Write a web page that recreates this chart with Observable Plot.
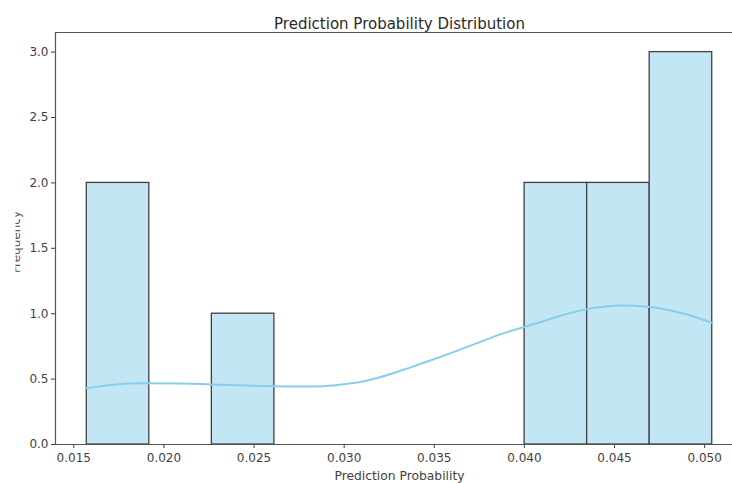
<!DOCTYPE html>
<html>
<head>
<meta charset="utf-8">
<script src="https://cdn.jsdelivr.net/npm/d3@7"></script>
<script src="https://cdn.jsdelivr.net/npm/@observablehq/plot@0.6"></script>
<style>
  html, body { margin: 0; padding: 0; background: #fff; overflow: hidden; }
  #chart svg { overflow: hidden; display: block; }
</style>
</head>
<body>
<div id="chart"></div>
<script>
// Histogram bins (10 equal-width bins over the observed range) and their counts
const binEdges = [0.01572, 0.01919, 0.02266, 0.02613, 0.02960, 0.03307, 0.03654, 0.04001, 0.04348, 0.04695, 0.05042];
const binCounts = [2, 0, 1, 0, 0, 0, 0, 2, 2, 3];

// Kernel density estimate, scaled to counts
const kdeX = [0.01572, 0.01733, 0.01888, 0.02100, 0.02265, 0.02450, 0.02609, 0.02758, 0.02886, 0.03010, 0.03130, 0.03250, 0.03368, 0.03490, 0.03606, 0.03730, 0.03850, 0.03994, 0.04089, 0.04200, 0.04349, 0.04532, 0.04698, 0.04870, 0.05042];
const kdeY = [0.430, 0.458, 0.468, 0.466, 0.459, 0.452, 0.446, 0.443, 0.446, 0.462, 0.490, 0.535, 0.590, 0.648, 0.706, 0.771, 0.834, 0.897, 0.936, 0.985, 1.035, 1.062, 1.052, 1.005, 0.930];

// Axis ticks
const xTicks = [0.015, 0.020, 0.025, 0.030, 0.035, 0.040, 0.045, 0.050];
const yTicks = [0.0, 0.5, 1.0, 1.5, 2.0, 2.5, 3.0];

const bars = binCounts
  .map((c, i) => ({x1: binEdges[i], x2: binEdges[i + 1], count: c}))
  .filter(d => d.count > 0);
const kde = kdeX.map((x, i) => ({x, y: kdeY[i]}));

// Axis limits with a 5% margin around the data
const xPad = (binEdges[binEdges.length - 1] - binEdges[0]) * 0.05;
const xDomain = [binEdges[0] - xPad, binEdges[binEdges.length - 1] + xPad];
const yDomain = [0, 3 * 1.05];

const ink = "#3f3f3f";

const chart = Plot.plot({
  width: 732,
  height: 483,
  marginTop: 32,
  marginLeft: 55,
  marginRight: -11,
  marginBottom: 39,
  style: {fontFamily: "DejaVu Sans", fontSize: "12px", color: ink, background: "#fff"},
  x: {domain: xDomain, ticks: xTicks, tickFormat: d3.format(".3f"), label: null},
  y: {domain: yDomain, ticks: yTicks, tickFormat: d3.format(".1f"), label: null},
  marks: [
    Plot.rectY(bars, {x1: "x1", x2: "x2", y: "count", fill: "#c3e6f4", stroke: "#404040", strokeWidth: 1.3}),
    Plot.line(kde, {x: "x", y: "y", stroke: "#87ceeb", strokeWidth: 2, curve: "monotone-x"}),
    Plot.axisX({ticks: xTicks, tickFormat: d3.format(".3f"), tickSize: 4, tickPadding: 5, stroke: ink, fill: ink, fontSize: 12, label: null}),
    Plot.axisY({ticks: yTicks, tickFormat: d3.format(".1f"), tickSize: 4, tickPadding: 3, stroke: ink, fill: ink, fontSize: 12, label: null}),
    // Spines
    Plot.ruleX([xDomain[0]], {stroke: "#555", strokeWidth: 1.2}),
    Plot.ruleY([yDomain[0]], {stroke: "#555", strokeWidth: 1.2}),
    Plot.ruleY([yDomain[1]], {stroke: "#555", strokeWidth: 1.2}),
    // Titles
    Plot.text(["Prediction Probability Distribution"], {frameAnchor: "top", dy: -14, fontSize: 15, fill: "#2a2a2a"}),
    Plot.text(["Prediction Probability"], {frameAnchor: "bottom", dy: 35, fontSize: 12.3, fill: ink})
  ]
});

document.getElementById("chart").appendChild(chart);

// The y-axis label runs off the left edge; only its right part stays visible
const svg = d3.select(chart);
svg.append("clipPath").attr("id", "ylab-clip")
  .append("rect").attr("x", 15.5).attr("y", 0).attr("width", 100).attr("height", 483);
svg.append("g")
  .attr("clip-path", "url(#ylab-clip)")
  .append("text")
  .attr("transform", "translate(20,242) rotate(-90)")
  .attr("text-anchor", "middle")
  .attr("font-size", 12)
  .attr("fill", "#555")
  .text("Frequency");
</script>
</body>
</html>
